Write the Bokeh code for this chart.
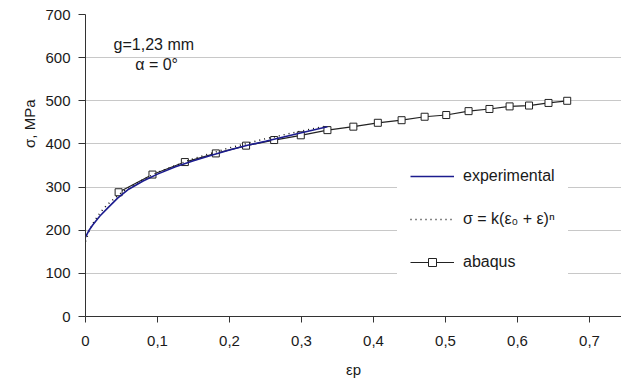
from bokeh.plotting import figure
from bokeh.models import Range1d, Label, Legend, LegendItem, FixedTicker, Title
from bokeh.embed import file_html
from bokeh.resources import INLINE

# ---- data ----
exp_eps = [0.0, 0.005, 0.01, 0.02, 0.03, 0.045, 0.06, 0.08, 0.1, 0.125, 0.15,
           0.175, 0.2, 0.225, 0.25, 0.275, 0.3, 0.336]
exp_sig = [184, 200, 212, 233, 250, 275, 295, 314, 330, 347, 361,
           374, 386, 397, 406, 416, 426, 440]

fit_eps = [0.0, 0.005, 0.01, 0.02, 0.03, 0.05, 0.075, 0.1, 0.15, 0.2, 0.25, 0.3, 0.336]
fit_sig = [174, 198, 215, 240, 259, 287, 313, 334, 366, 391, 412, 430, 442]

abq_eps = [0.046, 0.093, 0.138, 0.181, 0.223, 0.262, 0.299, 0.336, 0.372, 0.406,
           0.439, 0.471, 0.501, 0.532, 0.561, 0.589, 0.616, 0.643, 0.669]
abq_sig = [288, 329, 358, 378, 396, 409, 420, 432, 440, 449,
           455, 463, 467, 476, 481, 487, 489, 495, 500]

x_ticks = [0.0, 0.1, 0.2, 0.3, 0.4, 0.5, 0.6, 0.7]
x_tick_labels = ["0", "0,1", "0,2", "0,3", "0,4", "0,5", "0,6", "0,7"]
y_ticks = [0, 100, 200, 300, 400, 500, 600, 700]

FONT = "Liberation Sans"
TXT = "#1a1a1a"

p = figure(frame_width=536, frame_height=302, output_backend="svg",
           toolbar_location=None, x_range=Range1d(0, 0.7444), y_range=Range1d(0, 700),
           min_border_left=85, min_border_right=0, min_border_top=14, min_border_bottom=65)
p.outline_line_color = None
p.background_fill_color = "white"
p.border_fill_color = "white"

p.xgrid.grid_line_color = None
p.ygrid.grid_line_color = "#c8c8c8"
p.ygrid.grid_line_width = 1

p.xaxis.ticker = FixedTicker(ticks=x_ticks)
p.xaxis.major_label_overrides = {t: l for t, l in zip(x_ticks, x_tick_labels)}
p.yaxis.ticker = FixedTicker(ticks=y_ticks)
for ax in (p.xaxis, p.yaxis):
    ax.axis_line_color = "#333333"
    ax.major_tick_line_color = "#333333"
    ax.minor_tick_line_color = None
    ax.major_tick_in = 0
    ax.major_label_text_font = FONT
    ax.major_label_text_font_size = "15px"
    ax.major_label_text_color = TXT
p.xaxis.major_tick_out = 6
p.xaxis.major_label_standoff = 13
p.yaxis.major_tick_out = 7
p.yaxis.major_label_standoff = 8

p.xaxis.axis_label = "εp"
p.xaxis.axis_label_text_font = FONT
p.xaxis.axis_label_text_font_style = "normal"
p.xaxis.axis_label_text_font_size = "15px"
p.xaxis.axis_label_text_color = TXT
p.xaxis.axis_label_standoff = 12

# y title, placed in the upper half of the left side as in the reference
p.add_layout(Title(text="σ, MPa", align="right", offset=85, text_font=FONT,
                   text_font_size="15px", text_font_style="normal",
                   text_color=TXT, standoff=9), "left")

# annotations
p.add_layout(Label(x=0.039, y=631, text="g=1,23 mm", text_font=FONT,
                   text_font_size="16px", text_color=TXT, text_baseline="middle"))
p.add_layout(Label(x=0.069, y=585, text="α = 0°", text_font=FONT,
                   text_font_size="16px", text_color=TXT, text_baseline="middle"))

# series
r_abq_line = p.line(abq_eps, abq_sig, line_color="#222222", line_width=1.2)
r_abq_mark = p.scatter(abq_eps, abq_sig, marker="square", size=7,
                       fill_color="white", line_color="#222222", line_width=1)
r_fit = p.line(fit_eps, fit_sig, line_color="#111111", line_width=1.5, line_dash="1 4")
r_exp = p.line(exp_eps, exp_sig, line_color="#1c1c8e", line_width=1.6)

legend = Legend(items=[
    LegendItem(label="experimental", renderers=[r_exp]),
    LegendItem(label="σ = k(ε₀ + ε)ⁿ", renderers=[r_fit]),
    LegendItem(label="abaqus", renderers=[r_abq_line, r_abq_mark]),
], location=(312, 31))
legend.glyph_width = 44
legend.glyph_height = 20
legend.label_height = 20
legend.label_standoff = 9
legend.spacing = 23
legend.padding = 13
legend.margin = 0
legend.border_line_alpha = 0
legend.background_fill_color = "white"
legend.background_fill_alpha = 1
legend.label_text_font = FONT
legend.label_text_font_size = "16px"
legend.label_text_color = TXT
p.add_layout(legend)

open("out.html", "w").write(file_html(p, INLINE))
